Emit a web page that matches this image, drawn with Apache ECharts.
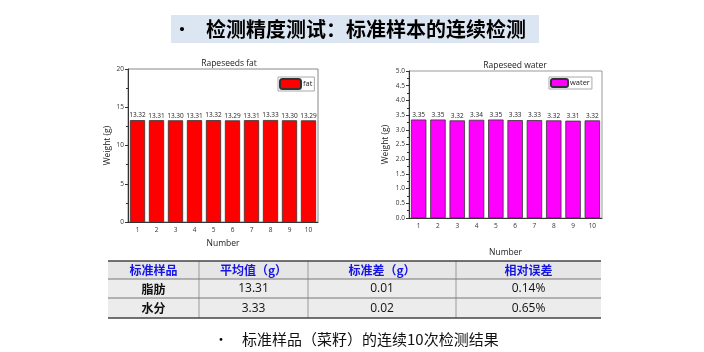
<!DOCTYPE html>
<html>
<head>
<meta charset="utf-8">
<script src="https://cdn.jsdelivr.net/npm/echarts@6/dist/echarts.min.js"></script>
<style>
  html, body { margin: 0; padding: 0; background: #fff; }
  #main { width: 704px; height: 352px; }
</style>
</head>
<body>
<div id="main"></div>
<script>
// chart data
const runs = ['1', '2', '3', '4', '5', '6', '7', '8', '9', '10'];
const fatValues = [13.32, 13.31, 13.30, 13.31, 13.32, 13.29, 13.31, 13.33, 13.30, 13.29];
const waterValues = [3.35, 3.35, 3.32, 3.34, 3.35, 3.33, 3.33, 3.32, 3.31, 3.32];

// table data
const tableHead = ['标准样品', '平均值（g）', '标准差（g）', '相对误差'];
const sampleNames = ['脂肪', '水分'];
const meanVals = ['13.31', '3.33'];
const sdVals = ['0.01', '0.02'];
const relErrVals = ['0.14%', '0.65%'];

const pageTitle = '检测精度测试：标准样本的连续检测';
const caption = '标准样品（菜籽）的连续10次检测结果';

const font = '"Open Sans", "Noto Sans", sans-serif';
const cjk = '"Noto Sans CJK SC", sans-serif';

let myChart = echarts.init(document.getElementById('main'));

// table layout
const colX = [108, 199, 308, 456, 601];
const rowY = [261, 279, 298, 318];
const rows = [tableHead].concat(sampleNames.map((n, i) => [n, meanVals[i], sdVals[i], relErrVals[i]]));

let graphics = [];
// title band
graphics.push({ type: 'rect', shape: { x: 171, y: 15, width: 368, height: 28 }, style: { fill: '#dce6f2' } });
graphics.push({ type: 'text', x: 182, y: 29, style: { text: '•', font: 'bold 16px ' + cjk, fill: '#000', verticalAlign: 'middle', align: 'center' } });
graphics.push({ type: 'text', x: 206, y: 29, style: { text: pageTitle, font: 'bold 20px ' + cjk, fill: '#000', verticalAlign: 'middle' } });

// table cells
rows.forEach((r, ri) => {
    graphics.push({ type: 'rect', shape: { x: colX[0], y: rowY[ri], width: colX[4] - colX[0], height: rowY[ri + 1] - rowY[ri] },
        style: { fill: ri === 0 ? '#e6e6e6' : '#ececec' } });
    r.forEach((t, ci) => {
        let isHead = ri === 0;
        let bold = isHead || ci === 0;
        graphics.push({ type: 'text', x: (colX[ci] + colX[ci + 1]) / 2, y: (rowY[ri] + rowY[ri + 1]) / 2 + 0.5,
            style: { text: t, align: 'center', verticalAlign: 'middle',
                font: (bold ? 'bold ' : '') + '12px ' + (ci === 0 || isHead ? cjk : font),
                fill: isHead ? '#1515e6' : '#111' } });
    });
});
// grid lines
for (let i = 1; i < 4; i++) {
    graphics.push({ type: 'line', shape: { x1: colX[i], y1: rowY[0], x2: colX[i], y2: rowY[3] }, style: { stroke: '#9a9a9a', lineWidth: 1 } });
}
[1, 2].forEach(i => {
    graphics.push({ type: 'line', shape: { x1: colX[0], y1: rowY[i], x2: colX[4], y2: rowY[i] }, style: { stroke: '#777', lineWidth: 1 } });
});
[0, 3].forEach(i => {
    graphics.push({ type: 'line', shape: { x1: colX[0], y1: rowY[i], x2: colX[4], y2: rowY[i] }, style: { stroke: '#444', lineWidth: 1.5 } });
});
// caption
graphics.push({ type: 'text', x: 221, y: 339, style: { text: '•', font: '13px ' + cjk, fill: '#000', verticalAlign: 'middle', align: 'center' } });
graphics.push({ type: 'text', x: 242, y: 339, style: { text: caption, font: '15px ' + cjk, fill: '#111', verticalAlign: 'middle' } });

function xAxisFor(gi, gap) {
    return {
        type: 'category', gridIndex: gi, data: runs,
        name: 'Number', nameLocation: 'middle', nameGap: gap,
        nameTextStyle: { fontFamily: font, fontSize: 8.5, color: '#222' },
        axisLine: { lineStyle: { color: '#333', width: 1 } },
        axisTick: { alignWithLabel: true, length: 3, lineStyle: { color: '#333' } },
        axisLabel: { fontFamily: font, fontSize: 6.5, color: '#333', margin: 5 }
    };
}
function yAxisFor(gi, max, interval, gap, digits) {
    return {
        type: 'value', gridIndex: gi, min: 0, max: max, interval: interval,
        name: 'Weight (g)', nameLocation: 'middle', nameGap: gap, nameRotate: 90,
        nameTextStyle: { fontFamily: font, fontSize: 8.5, color: '#222' },
        axisLine: { show: true, lineStyle: { color: '#333', width: 1 } },
        axisTick: { show: true, length: 3, lineStyle: { color: '#333' } },
        minorTick: { show: true, splitNumber: 2, length: 2, lineStyle: { color: '#333' } },
        splitLine: { show: false },
        axisLabel: { fontFamily: font, fontSize: 6.5, color: '#333', margin: 4,
            formatter: v => v.toFixed(digits) }
    };
}
function barSeries(name, gi, data, color) {
    return {
        name: name, type: 'bar', xAxisIndex: gi, yAxisIndex: gi, data: data,
        barCategoryGap: '20%',
        itemStyle: { color: color, borderColor: '#333', borderWidth: 0.8 },
        label: { show: true, position: 'top', distance: 1, fontFamily: font, fontSize: 6.5, color: '#222',
            formatter: p => p.value.toFixed(2) }
    };
}

let option = {
    animation: false,
    backgroundColor: '#fff',
    title: [
        { text: 'Rapeseeds fat', left: 224, top: 54, textAlign: 'center',
          textStyle: { fontFamily: font, fontSize: 8.5, fontWeight: 'normal', color: '#222' } },
        { text: 'Rapeseed water', left: 510, top: 56, textAlign: 'center',
          textStyle: { fontFamily: font, fontSize: 8.5, fontWeight: 'normal', color: '#222' } }
    ],
    legend: [
        { data: ['fat'], left: 278, top: 77, orient: 'vertical', itemWidth: 21, itemHeight: 10,
          borderColor: '#aaa', borderWidth: 1, padding: [1, 2, 1, 1], itemGap: 0,
          textStyle: { fontFamily: font, fontSize: 7.5, color: '#222', padding: [0, 0, 0, -3] } },
        { data: ['water'], left: 549, top: 77, orient: 'vertical', itemWidth: 17, itemHeight: 8,
          borderColor: '#aaa', borderWidth: 1, padding: [1, 2, 1, 1], itemGap: 0,
          textStyle: { fontFamily: font, fontSize: 7.5, color: '#222', padding: [0, 0, 0, -3] } }
    ],
    grid: [
        { left: 128, top: 69, width: 190, height: 153, show: true, borderColor: '#888', borderWidth: 1, backgroundColor: 'transparent' },
        { left: 409, top: 71, width: 193, height: 147, show: true, borderColor: '#999', borderWidth: 1, backgroundColor: 'transparent' }
    ],
    xAxis: [xAxisFor(0, 17), xAxisFor(1, 30)],
    yAxis: [yAxisFor(0, 20, 5, 16, 0), yAxisFor(1, 5, 0.5, 19, 1)],
    series: [
        barSeries('fat', 0, fatValues, '#ff0000'),
        barSeries('water', 1, waterValues, '#ff00ff')
    ],
    graphic: graphics
};

option && myChart.setOption(option);
</script>
</body>
</html>
